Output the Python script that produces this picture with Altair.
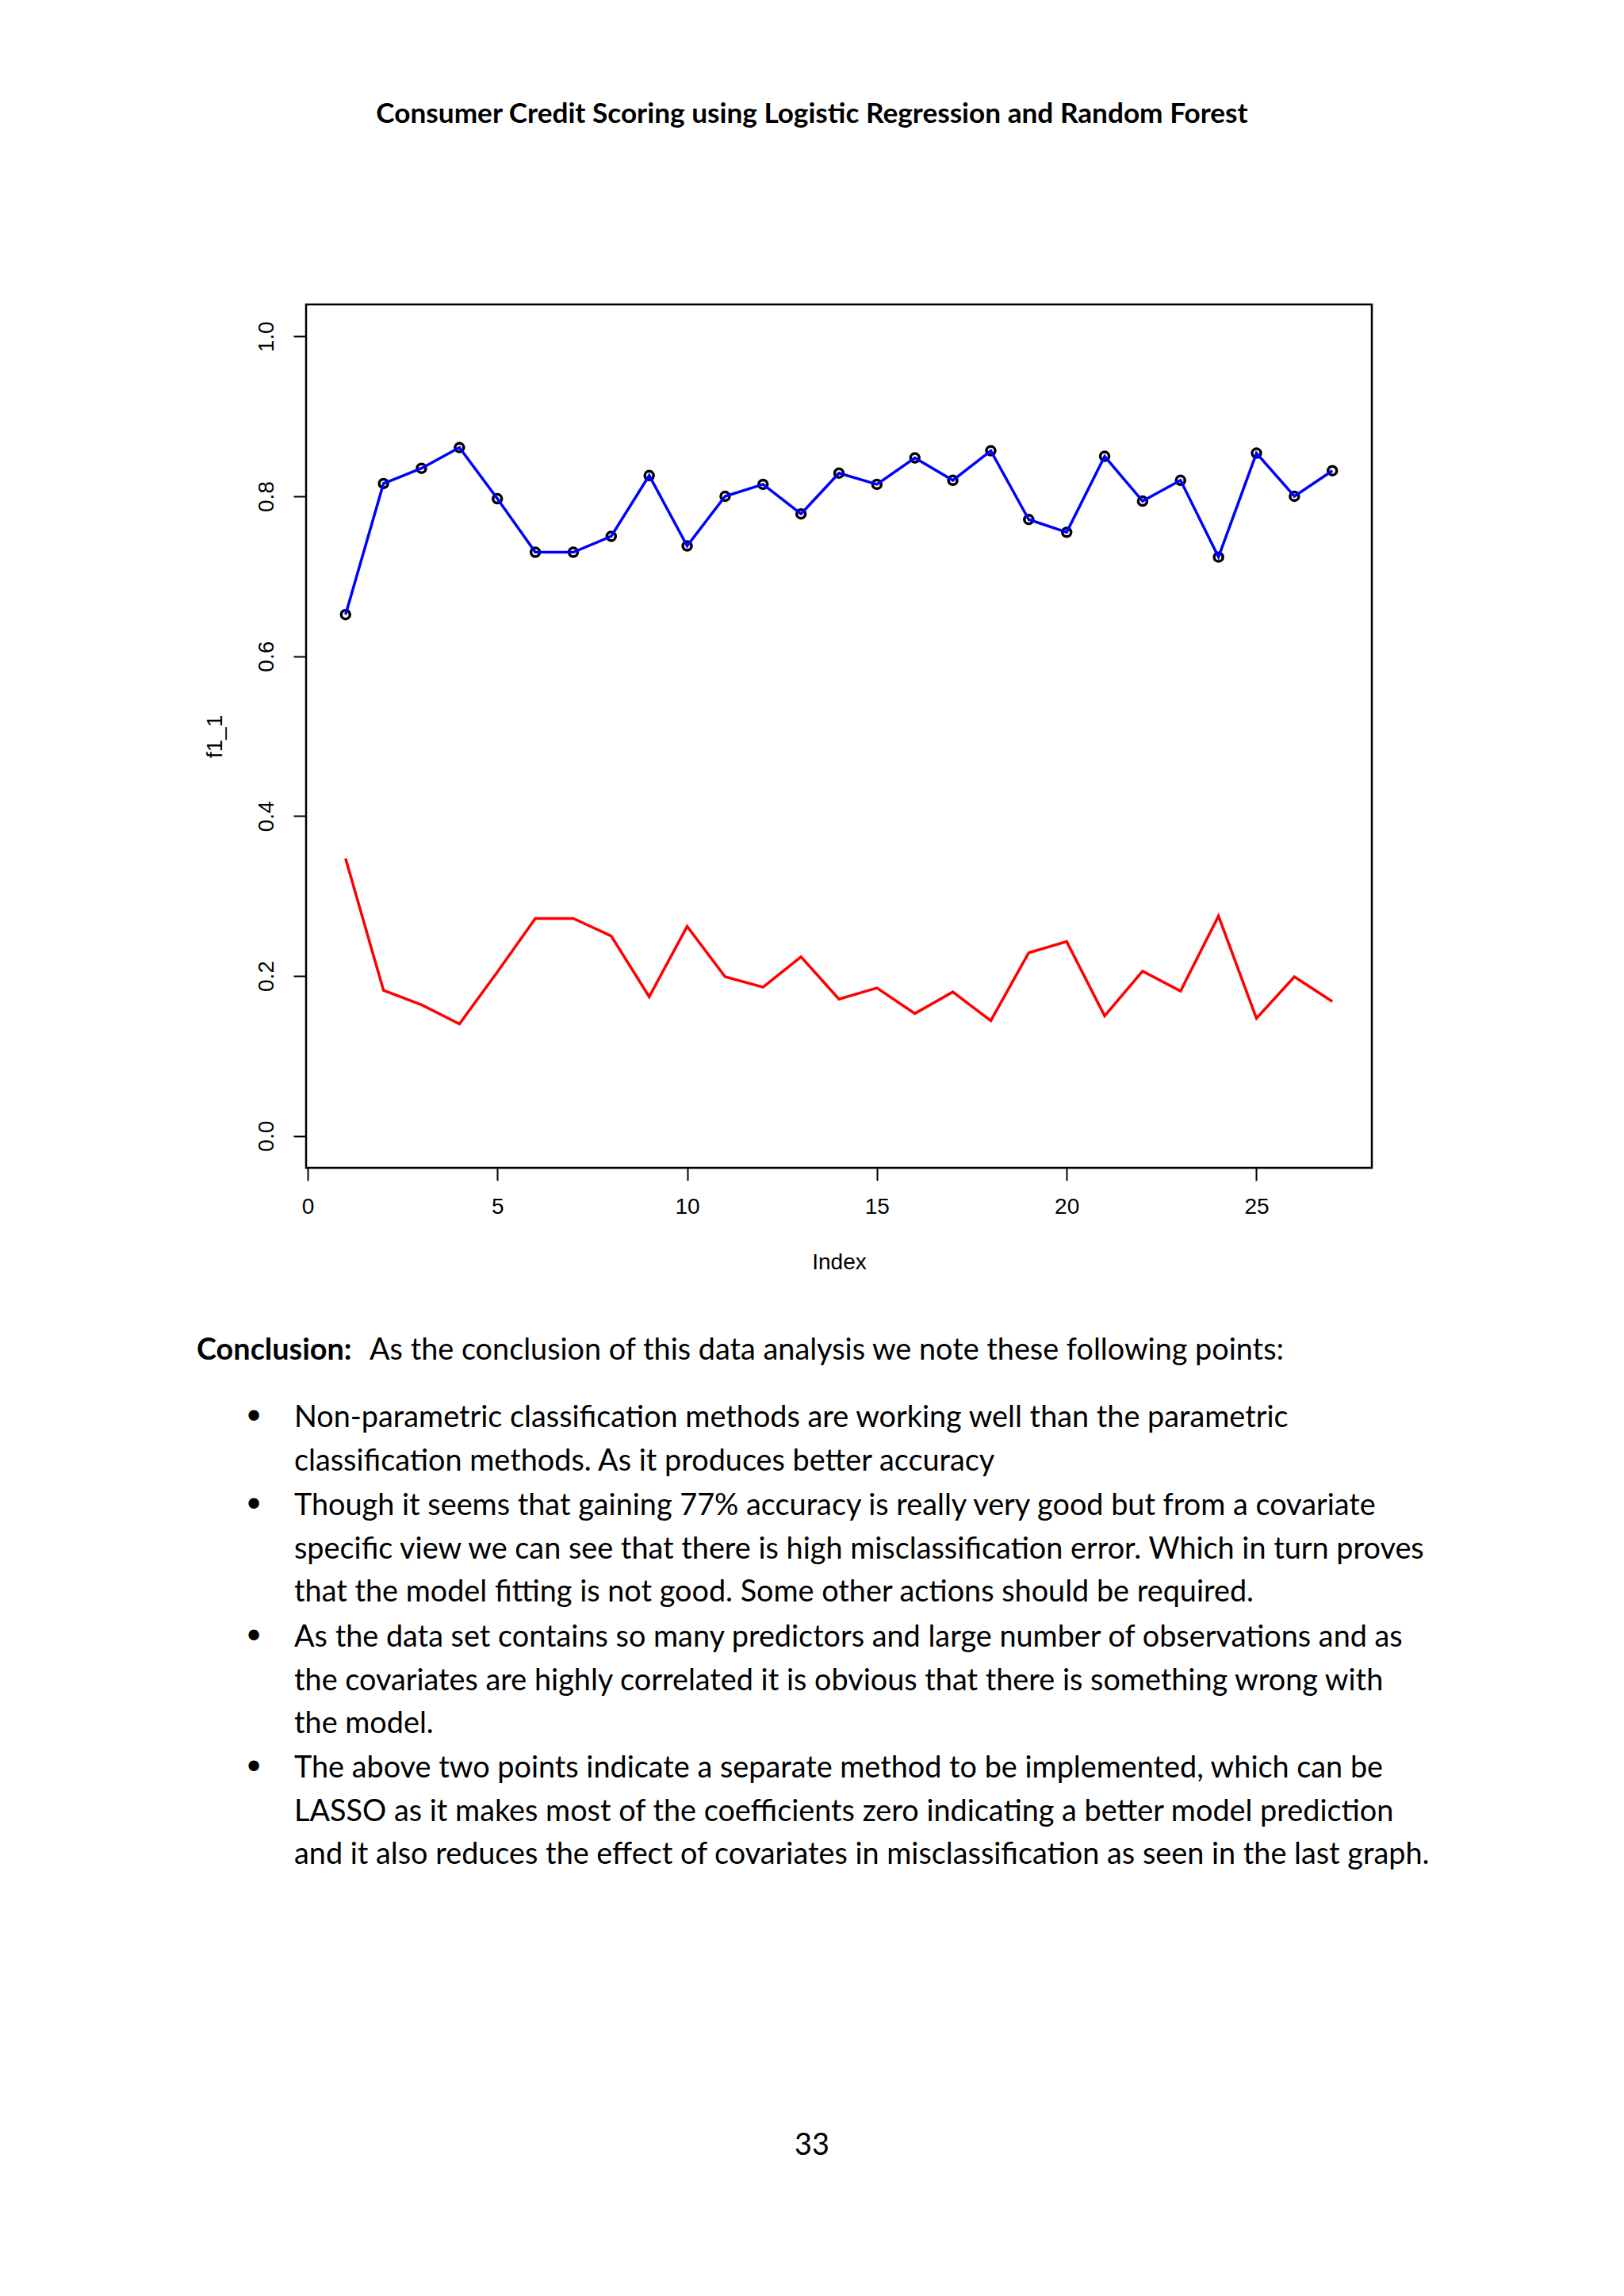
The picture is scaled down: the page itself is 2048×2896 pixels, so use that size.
import altair as alt
import pandas as pd

# ---------------- data ----------------
index = list(range(1, 28))
f1_1 = [0.652, 0.816, 0.835, 0.861, 0.797, 0.730, 0.730, 0.750, 0.826, 0.738,
        0.800, 0.815, 0.778, 0.829, 0.815, 0.848, 0.820, 0.857, 0.771, 0.755,
        0.850, 0.794, 0.820, 0.724, 0.854, 0.800, 0.832]
f1_0 = [0.347, 0.182, 0.164, 0.140, 0.205, 0.272, 0.272, 0.250, 0.174, 0.262,
        0.199, 0.186, 0.224, 0.171, 0.185, 0.153, 0.180, 0.144, 0.229, 0.243,
        0.150, 0.206, 0.181, 0.275, 0.147, 0.199, 0.168]
x_ticks = [0, 5, 10, 15, 20, 25]
y_ticks = [0.0, 0.2, 0.4, 0.6, 0.8, 1.0]

header = "Consumer Credit Scoring using Logistic Regression and Random Forest"
concl_head = "Conclusion:"
concl_text = "As the conclusion of this data analysis we note these following points:"
bullets = [
    ["Non-parametric classification methods are working well than the parametric",
     "classification methods. As it produces better accuracy"],
    ["Though it seems that gaining 77% accuracy is really very good but from a covariate",
     "specific view we can see that there is high misclassification error. Which in turn proves",
     "that the model fitting is not good. Some other actions should be required."],
    ["As the data set contains so many predictors and large number of observations and as",
     "the covariates are highly correlated it is obvious that there is something wrong with",
     "the model."],
    ["The above two points indicate a separate method to be implemented, which can be",
     "LASSO as it makes most of the coefficients zero indicating a better model prediction",
     "and it also reduces the effect of covariates in misclassification as seen in the last graph."],
]
page_number = "33"

df = pd.DataFrame({"Index": index, "f1_1": f1_1, "f1_0": f1_0})

# ---------------- layout (page pixels) ----------------
PLOT_LEFT, PLOT_TOP = 386, 384
W, H = 1344, 1089


def px(x):
    return x - PLOT_LEFT


def py(y):
    return y - PLOT_TOP


xs = alt.Scale(domain=[-0.04, 28.04], nice=False, zero=False)
ys = alt.Scale(domain=[-0.04, 1.04], nice=False, zero=False)

x_enc = alt.X("Index:Q", scale=xs,
              axis=alt.Axis(values=x_ticks, title="Index", format="d",
                            grid=False, domain=False, tickSize=16, tickWidth=2,
                            tickColor="black", labelColor="black",
                            labelFont="Liberation Sans", labelFontSize=28,
                            labelPadding=19, titleFont="Liberation Sans",
                            titleFontSize=28, titleFontWeight="normal",
                            titleColor="black", titlePadding=42))

y_axis = alt.Axis(values=y_ticks, title="f1_1", format=".1f", grid=False,
                  domain=False, tickSize=16, tickWidth=2, tickColor="black",
                  labelColor="black", labelFont="Liberation Sans",
                  labelFontSize=28, labelAngle=270, labelAlign="center",
                  labelBaseline="middle", labelPadding=34,
                  titleFont="Liberation Sans", titleFontSize=28,
                  titleFontWeight="normal", titleColor="black", titlePadding=37)

base = alt.Chart(df)

pts = base.mark_point(shape="circle", filled=False, color="black",
                      strokeWidth=3.5, size=120, opacity=1).encode(
    x=x_enc, y=alt.Y("f1_1:Q", scale=ys, axis=y_axis))
blue = base.mark_line(color="#0000ff", strokeWidth=3.5).encode(
    x=alt.X("Index:Q", scale=xs), y=alt.Y("f1_1:Q", scale=ys))
red = base.mark_line(color="#ff0000", strokeWidth=3.5).encode(
    x=alt.X("Index:Q", scale=xs), y=alt.Y("f1_0:Q", scale=ys))

BODY_FONT = "Lato"
BODY_SIZE = 37.8


def text_layer(t, x, y, align="left", bold=False, size=BODY_SIZE, font=BODY_FONT):
    return alt.Chart(pd.DataFrame({"t": [t]})).mark_text(
        align=align, baseline="middle", font=font, fontSize=size,
        fontWeight="bold" if bold else "normal", color="black").encode(
        x=alt.value(px(x)), y=alt.value(py(y)), text="t:N")


layers = [pts, blue, red]
layers.append(text_layer(header, 1024, 144, align="center", bold=True, size=35.2))
layers.append(text_layer(concl_head, 248, 1704, bold=True))
layers.append(text_layer(concl_text, 466, 1704))

para_starts = [1789, 1900, 2066, 2231]
LINE = 54.6
for para, y0 in zip(bullets, para_starts):
    layers.append(text_layer("\u2022", 320, y0, align="center", size=46, font="DejaVu Sans"))
    for k, line in enumerate(para):
        layers.append(text_layer(line, 371, y0 + k * LINE))

layers.append(text_layer(page_number, 1024, 2707, align="center"))

chart = alt.layer(*layers).properties(
    width=W, height=H,
    autosize=alt.AutoSizeParams(type="none"),
    padding={"left": PLOT_LEFT - 8, "top": PLOT_TOP - 8,
             "right": 2040 - (PLOT_LEFT + W), "bottom": 2880 - (PLOT_TOP + H)},
    background="white",
).configure_view(stroke="black", strokeWidth=2.5)

chart.save("out.html", embed_options={"renderer": "svg", "actions": False})
